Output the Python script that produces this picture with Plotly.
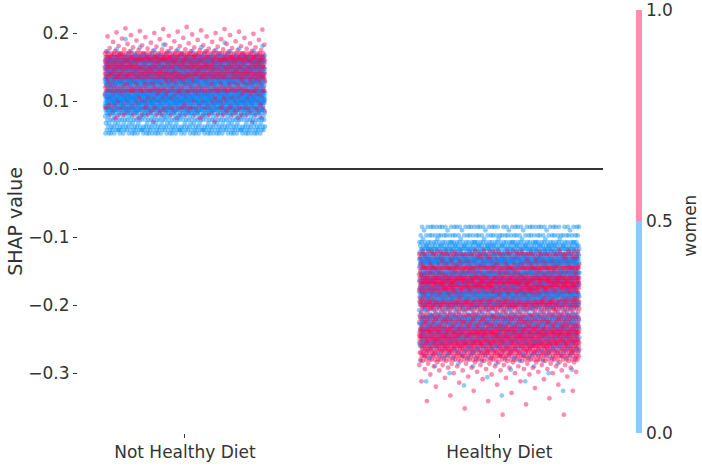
import numpy as np
import plotly.graph_objects as go

categories = ["Not Healthy Diet", "Healthy Diet"]

# SHAP value rows and how many samples sit on each row
not_healthy_women_shap = [0.209, 0.207, 0.206, 0.205, 0.204, 0.203, 0.202, 0.201, 0.200, 0.199,
                          0.198, 0.197, 0.196, 0.195, 0.194, 0.193, 0.192, 0.191, 0.190, 0.189,
                          0.188, 0.187, 0.186, 0.185, 0.184, 0.183, 0.182, 0.181, 0.180, 0.179,
                          0.178, 0.177, 0.176, 0.175, 0.174, 0.173,
                          0.170, 0.165, 0.160, 0.155, 0.150,
                          0.145, 0.140, 0.135, 0.130, 0.125, 0.120, 0.115, 0.110, 0.105, 0.100,
                          0.095, 0.090, 0.085, 0.080, 0.075, 0.070]
not_healthy_women_count = [1, 1, 2, 1, 1, 1, 2, 1, 2, 1,
                           1, 2, 1, 2, 1, 2, 1, 2, 2, 1,
                           2, 2, 1, 2, 2, 2, 2, 3, 2, 3,
                           3, 3, 4, 4, 5, 6,
                           60, 120, 130, 80, 110,
                           70, 110, 100, 40, 40, 50, 110, 30, 25, 30,
                           20, 45, 15, 20, 6, 3]

not_healthy_men_shap = [0.191, 0.186, 0.183, 0.181, 0.179, 0.177, 0.176, 0.175, 0.174, 0.173,
                        0.1675, 0.1625, 0.1575, 0.1525, 0.1475,
                        0.1425, 0.1375, 0.1325, 0.1275, 0.1225, 0.1175, 0.1125, 0.1075, 0.1025, 0.0975,
                        0.0925, 0.0875, 0.0825, 0.0775, 0.0725, 0.0675, 0.0625, 0.0575, 0.0525]
not_healthy_men_count = [1, 1, 1, 1, 2, 1, 2, 2, 3, 4,
                         30, 50, 100, 60, 110,
                         60, 70, 120, 130, 80, 50, 120, 140, 140, 130,
                         90, 110, 80, 40, 55, 30, 55, 60, 45]

healthy_women_shap = [-0.120, -0.125, -0.130, -0.135, -0.140, -0.145, -0.150, -0.155, -0.160, -0.165,
                      -0.170, -0.175, -0.180, -0.185, -0.190, -0.195, -0.200, -0.205, -0.210, -0.215,
                      -0.220, -0.225, -0.230, -0.235, -0.240, -0.245, -0.250, -0.255, -0.260, -0.265,
                      -0.270, -0.275, -0.280,
                      -0.282, -0.284, -0.286, -0.288, -0.290, -0.292, -0.294, -0.296, -0.298, -0.300,
                      -0.302, -0.305, -0.307, -0.309, -0.312, -0.314, -0.317, -0.320, -0.322, -0.326,
                      -0.329, -0.333, -0.337, -0.341, -0.346, -0.352, -0.361]
healthy_women_count = [30, 80, 40, 30, 40, 120, 50, 60, 130, 140,
                       130, 120, 90, 40, 50, 110, 110, 60, 30, 60,
                       70, 60, 70, 110, 120, 100, 90, 110, 90, 80,
                       70, 60, 45,
                       8, 7, 6, 6, 5, 5, 4, 4, 3, 3,
                       3, 2, 2, 2, 2, 1, 2, 1, 1, 2,
                       1, 1, 1, 2, 1, 1, 2]

healthy_men_shap = [-0.085, -0.090, -0.0975, -0.1025, -0.1075, -0.1125, -0.1175, -0.1225, -0.1275, -0.1325,
                    -0.1375, -0.1425, -0.1475, -0.1525, -0.1575, -0.1625, -0.1675, -0.1725, -0.1775, -0.1825,
                    -0.1875, -0.1925, -0.1975, -0.2025, -0.2075, -0.2125, -0.2175, -0.2225, -0.2275, -0.2325,
                    -0.2375, -0.2425, -0.2475, -0.2525, -0.2575, -0.2625, -0.2675, -0.2725, -0.2775,
                    -0.282, -0.286, -0.290, -0.295, -0.300, -0.306, -0.312, -0.318, -0.326, -0.333]
healthy_men_count = [45, 8, 50, 8, 60, 70, 80, 50, 60, 130,
                     140, 40, 40, 130, 50, 40, 40, 40, 40, 120,
                     110, 50, 40, 40, 25, 30, 70, 60, 70, 50,
                     30, 40, 50, 40, 30, 20, 20, 15, 12,
                     4, 3, 3, 2, 2, 1, 2, 1, 1, 1]

JITTER = 0.255
WOMEN_SCALE = [[0.0, "rgba(0,139,251,0.45)"], [0.5, "rgba(0,139,251,0.45)"],
               [0.5, "rgba(255,0,82,0.45)"], [1.0, "rgba(255,0,82,0.45)"]]
FONT = "DejaVu Sans"
TXT = "#333333"


def strip_points(pos, women_shap, women_count, men_shap, men_count):
    y = np.concatenate([np.repeat(men_shap, men_count), np.repeat(women_shap, women_count)])
    women = np.concatenate([np.zeros(sum(men_count)), np.ones(sum(women_count))])
    k = np.arange(len(y))
    # golden-ratio spread across the column, then a fixed draw order so colours interleave
    x = pos + ((k * 0.6180339887 + 0.13) % 1.0 - 0.5) * 2 * JITTER
    order = np.argsort((k * 0.7548776662 + 0.31) % 1.0)
    return x[order], y[order], women[order]


fig = go.Figure()

groups = [
    (not_healthy_women_shap, not_healthy_women_count, not_healthy_men_shap, not_healthy_men_count),
    (healthy_women_shap, healthy_women_count, healthy_men_shap, healthy_men_count),
]
for i, (ws, wc, ms, mc) in enumerate(groups):
    x, y, women = strip_points(i, ws, wc, ms, mc)
    fig.add_trace(go.Scatter(
        x=x, y=y, mode="markers", showlegend=False, hoverinfo="skip",
        marker=dict(size=4.8, color=women, colorscale=WOMEN_SCALE, cmin=0, cmax=1,
                    line=dict(width=0), showscale=(i == 1),
                    colorbar=dict(x=1.063, xanchor="left", xpad=0, y=1, yanchor="top",
                                  len=1, ypad=0, thickness=6, outlinewidth=0,
                                  tickvals=[0, 0.5, 1], ticktext=["0.0", "0.5", "1.0"],
                                  ticks="", ticklabeloverflow="allow",
                                  tickfont=dict(size=17, color=TXT, family=FONT))),
    ))

fig.add_annotation(text="women", textangle=-90, x=1.1657, y=0.49, xref="paper", yref="paper",
                   xanchor="center", yanchor="middle", showarrow=False,
                   font=dict(size=17, color=TXT, family=FONT))

fig.update_layout(
    width=702, height=466,
    margin=dict(l=78, r=99, t=10, b=33),
    paper_bgcolor="white", plot_bgcolor="white",
    font=dict(family=FONT, size=17, color=TXT),
    xaxis=dict(range=[-0.34, 1.33], tickvals=[0, 1], ticktext=categories,
               ticks="outside", ticklen=4, tickcolor=TXT, showgrid=False,
               zeroline=False, showline=False, automargin=False),
    yaxis=dict(range=[-0.388, 0.234], tickvals=[-0.3, -0.2, -0.1, 0.0, 0.1, 0.2],
               tickformat=".1f", ticks="outside", ticklen=4, tickcolor=TXT,
               showgrid=False, showline=False, automargin=False,
               zeroline=True, zerolinecolor=TXT, zerolinewidth=1.5,
               title=dict(text="SHAP value", font=dict(size=19), standoff=0)),
)

# the page body has a default 8px margin; drop it so the figure fills the window
fig.write_html("out.html", config={"displayModeBar": False},
               post_script="document.body.style.margin = '0';")
